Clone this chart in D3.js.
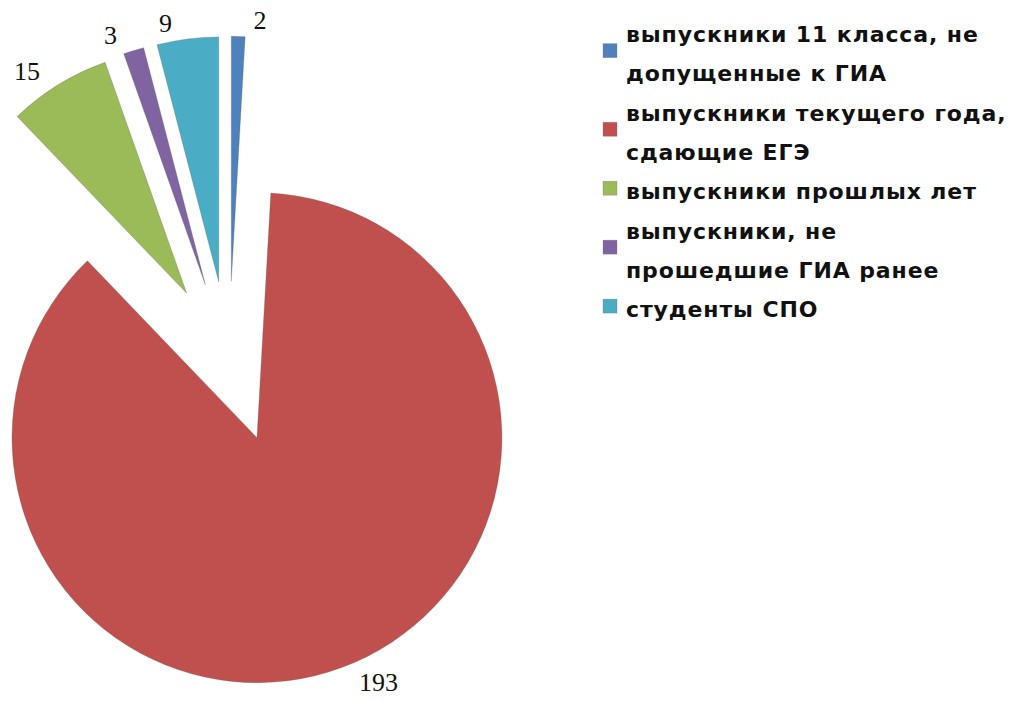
<!DOCTYPE html>
<html>
<head>
<meta charset="utf-8">
<script src="https://cdn.jsdelivr.net/npm/d3@7"></script>
<style>
  html, body { margin: 0; padding: 0; background: #ffffff; }
  svg { display: block; }
</style>
</head>
<body>
<svg id="chart" width="1013" height="701"></svg>
<script>
// ---- data ----
const categories = [
  "выпускники 11 класса, не допущенные к ГИА",
  "выпускники текущего года, сдающие ЕГЭ",
  "выпускники прошлых лет",
  "выпускники, не прошедшие ГИА ранее",
  "студенты СПО"
];
const legendLines = [
  ["выпускники 11 класса, не", "допущенные к ГИА"],
  ["выпускники текущего года,", "сдающие ЕГЭ"],
  ["выпускники прошлых лет"],
  ["выпускники, не", "прошедшие ГИА ранее"],
  ["студенты СПО"]
];
const values = [2, 193, 15, 3, 9];
const colors = ["#4F81BD", "#C0504D", "#9BBB59", "#8064A2", "#4BACC6"];

// ---- layout ----
const svg = d3.select("#chart");
const cx = 229, cy = 362;
const R = 245;
const explode = 80.7;

const pie = d3.pie().sort(null).value(d => d)(values);
const arc = d3.arc().innerRadius(0).outerRadius(R);

const g = svg.append("g").attr("transform", `translate(${cx},${cy})`);

const slices = g.selectAll("g.slice").data(pie).enter().append("g")
  .attr("class", "slice")
  .attr("transform", d => {
    const a = (d.startAngle + d.endAngle) / 2;
    return `translate(${explode * Math.sin(a)},${-explode * Math.cos(a)})`;
  });

slices.append("path")
  .attr("d", arc)
  .attr("fill", (d, i) => colors[i])
  .attr("stroke", "rgba(90,90,90,0.35)")
  .attr("stroke-width", 0.8);

// data labels (outside end)
const rl = explode + R + 16;
g.selectAll("text.lbl").data(pie).enter().append("text")
  .attr("class", "lbl")
  .attr("x", d => {
    const a = (d.startAngle + d.endAngle) / 2;
    const s = Math.sin(a);
    const off = (s >= 0 ? 1 : -1) * (15 - 10 * Math.abs(s));
    return rl * s + off;
  })
  .attr("y", d => {
    const a = (d.startAngle + d.endAngle) / 2;
    return -rl * Math.cos(a);
  })
  .attr("text-anchor", d => Math.sin((d.startAngle + d.endAngle) / 2) >= 0 ? "start" : "end")
  .attr("dominant-baseline", "central")
  .attr("font-family", "'Liberation Serif', 'Times New Roman', serif")
  .attr("font-size", 26)
  .attr("fill", "#111")
  .text(d => d.data);

// ---- legend ----
const legX = 626, firstBase = 42, lineH = 39.3, sq = 14;
const leg = svg.append("g");
let lineIdx = 0;
legendLines.forEach((lines, i) => {
  const base0 = firstBase + lineIdx * lineH;
  const mid = base0 - 6 + (lines.length - 1) * lineH / 2 - 5;
  leg.append("rect")
    .attr("x", legX - 23)
    .attr("y", mid - sq / 2)
    .attr("width", sq)
    .attr("height", sq)
    .attr("fill", colors[i])
    .attr("stroke", "rgba(120,120,120,0.5)")
    .attr("stroke-width", 0.6);
  const t = leg.append("text")
    .attr("font-family", "'DejaVu Sans', Verdana, sans-serif")
    .attr("font-weight", "bold")
    .attr("font-size", 22)
    .attr("letter-spacing", 0.9)
    .attr("fill", "#111");
  lines.forEach((ln, j) => {
    t.append("tspan")
      .attr("x", legX)
      .attr("y", base0 + j * lineH)
      .text(ln);
  });
  lineIdx += lines.length;
});
</script>
</body>
</html>
